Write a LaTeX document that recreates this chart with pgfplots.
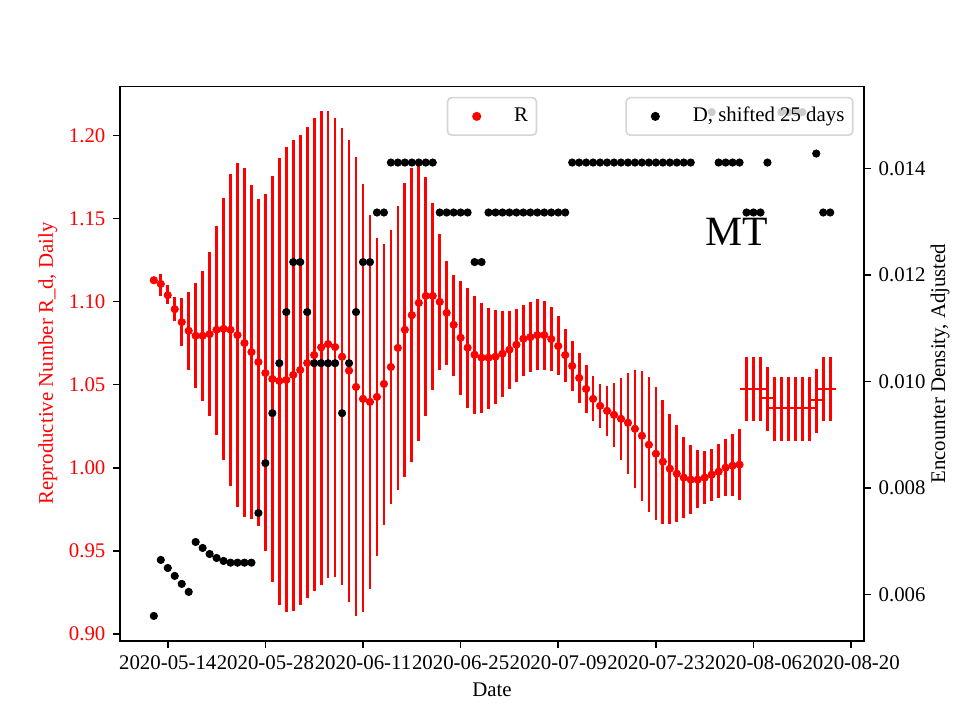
\documentclass[border=0pt]{standalone}
\usepackage{fontspec}
\setmainfont{Liberation Serif}
\usepackage{pgfplots}
\usepackage{pgfplotstable}
\pgfplotsset{compat=1.18}

% R_d daily: day (0 = 2020-05-14), centre, lower, upper
\pgfplotstableread{
d c lo hi
-2 1.1128 1.1128 1.1128
-1 1.1106 1.1036 1.1166
0 1.1038 1.0984 1.1100
1 1.0954 1.0880 1.1028
2 1.0876 1.0730 1.1024
3 1.0824 1.0586 1.1058
4 1.0794 1.0478 1.1114
5 1.0794 1.0400 1.1184
6 1.0804 1.0314 1.1298
7 1.0830 1.0194 1.1456
8 1.0836 1.0046 1.1624
9 1.0830 0.9890 1.1766
10 1.0798 0.9764 1.1832
11 1.0750 0.9704 1.1802
12 1.0696 0.9692 1.1700
13 1.0636 0.9650 1.1618
14 1.0570 0.9500 1.1646
15 1.0534 0.9310 1.1754
16 1.0522 0.9176 1.1862
17 1.0528 0.9130 1.1928
18 1.0558 0.9140 1.1970
19 1.0588 0.9176 1.2000
20 1.0630 0.9218 1.2048
21 1.0678 0.9256 1.2102
22 1.0724 0.9296 1.2144
23 1.0744 0.9334 1.2144
24 1.0726 0.9344 1.2102
25 1.0668 0.9296 1.2042
26 1.0584 0.9190 1.1970
27 1.0486 0.9106 1.1868
28 1.0414 0.9130 1.1706
29 1.0396 0.9268 1.1520
30 1.0426 0.9470 1.1382
31 1.0504 0.9656 1.1346
32 1.0606 0.9782 1.1430
33 1.0721 0.9866 1.1574
34 1.0830 0.9944 1.1712
35 1.0918 1.0034 1.1802
36 1.0992 1.0160 1.1820
37 1.1034 1.0310 1.1748
38 1.1034 1.0466 1.1592
39 1.0998 1.0586 1.1406
40 1.0932 1.0616 1.1244
41 1.0860 1.0550 1.1160
42 1.0782 1.0436 1.1124
43 1.0722 1.0358 1.1082
44 1.0680 1.0322 1.1034
45 1.0662 1.0328 1.0992
46 1.0662 1.0352 1.0962
47 1.0668 1.0382 1.0950
48 1.0686 1.0424 1.0944
49 1.0710 1.0472 1.0944
50 1.0740 1.0514 1.0956
51 1.0776 1.0550 1.0980
52 1.0786 1.0574 1.0998
53 1.0798 1.0586 1.1016
54 1.0798 1.0586 1.1004
55 1.0774 1.0580 1.0968
56 1.0732 1.0556 1.0914
57 1.0678 1.0514 1.0836
58 1.0612 1.0460 1.0764
59 1.0540 1.0388 1.0692
60 1.0474 1.0328 1.0618
61 1.0414 1.0280 1.0552
62 1.0372 1.0238 1.0504
63 1.0342 1.0190 1.0494
64 1.0318 1.0124 1.0512
65 1.0294 1.0046 1.0542
66 1.0270 0.9962 1.0572
67 1.0234 0.9878 1.0590
68 1.0192 0.9800 1.0584
69 1.0138 0.9734 1.0548
70 1.0084 0.9686 1.0488
71 1.0036 0.9662 1.0410
72 0.9994 0.9662 1.0326
73 0.9964 0.9674 1.0254
74 0.9940 0.9698 1.0182
75 0.9928 0.9722 1.0134
76 0.9928 0.9758 1.0104
77 0.9940 0.9782 1.0098
78 0.9958 0.9800 1.0110
79 0.9976 0.9818 1.0140
80 1.0000 0.9830 1.0170
81 1.0012 0.9830 1.0200
82 1.0018 0.9806 1.0230
}\rdata

\pgfplotstableread{
d c lo hi
83 1.0476 1.0280 1.0668
84 1.0476 1.0280 1.0668
85 1.0476 1.0280 1.0668
86 1.0418 1.0220 1.0608
87 1.0358 1.0160 1.0548
88 1.0358 1.0160 1.0548
89 1.0358 1.0160 1.0548
90 1.0358 1.0160 1.0548
91 1.0358 1.0160 1.0548
92 1.0358 1.0160 1.0548
93 1.0406 1.0208 1.0596
94 1.0476 1.0280 1.0668
95 1.0476 1.0280 1.0668
}\rtail

% encounter density, shifted 25 days
\pgfplotstableread{
d v
-2 0.005600
-1 0.006651
0 0.006500
1 0.006351
2 0.006201
3 0.006051
4 0.006988
5 0.006876
6 0.006763
7 0.006688
8 0.006632
9 0.006600
10 0.006600
11 0.006600
12 0.006600
13 0.007532
14 0.008469
15 0.009407
16 0.010345
17 0.011306
18 0.012244
19 0.012244
20 0.011306
21 0.010345
22 0.010345
23 0.010345
24 0.010345
25 0.009407
26 0.010345
27 0.011306
28 0.012244
29 0.012244
30 0.013175
31 0.013175
32 0.014113
33 0.014113
34 0.014113
35 0.014113
36 0.014113
37 0.014113
38 0.014113
39 0.013175
40 0.013175
41 0.013175
42 0.013175
43 0.013175
44 0.012244
45 0.012244
46 0.013175
47 0.013175
48 0.013175
49 0.013175
50 0.013175
51 0.013175
52 0.013175
53 0.013175
54 0.013175
55 0.013175
56 0.013175
57 0.013175
58 0.014113
59 0.014113
60 0.014113
61 0.014113
62 0.014113
63 0.014113
64 0.014113
65 0.014113
66 0.014113
67 0.014113
68 0.014113
69 0.014113
70 0.014113
71 0.014113
72 0.014113
73 0.014113
74 0.014113
75 0.014113
78 0.015060
79 0.014113
80 0.014113
81 0.014113
82 0.014113
83 0.013175
84 0.013175
85 0.013175
86 0.014113
88 0.015060
89 0.015060
90 0.015060
91 0.015060
93 0.014282
94 0.013175
95 0.013175
}\ddata

\pgfplotsset{
  twin/.style={
    at={(57.6pt,38.02pt)}, anchor=south west,
    width=357.12pt, height=266.11pt, scale only axis,
    xmin=-6.85, xmax=99.85,
    tick align=outside, major tick length=3.5pt,
    tick style={black, line width=0.8pt},
    axis line style={line width=0.8pt},
    /pgf/number format/assume math mode=true,
    legend cell align=left,
    legend image code/.code={
      \path[draw=none] (0pt,0pt) -- (20pt,0pt);
      \draw[only marks, fill opacity=1, draw opacity=1] plot coordinates {(10pt,0pt)};
    },
    legend style={draw=black!20, line width=0.8pt, fill=white, fill opacity=0.8,
      text opacity=1, draw opacity=0.8, rounded corners=2pt,
      inner xsep=4pt, inner ysep=4.4pt, column sep=8pt,
      nodes={inner sep=0pt, text height=7pt, text depth=2.2pt}},
  },
}

\begin{document}
\begin{tikzpicture}
\path[use as bounding box] (0,0) rectangle (460.8pt,345.6pt);

\begin{axis}[
  twin,
  ymin=0.8958, ymax=1.2295,
  xtick pos=bottom, ytick pos=left,
  xtick={0,14,28,42,56,70,84,98},
  xticklabels={2020-05-14,2020-05-28,2020-06-11,2020-06-25,2020-07-09,2020-07-23,2020-08-06,2020-08-20},
  ytick={0.90,0.95,1.00,1.05,1.10,1.15,1.20},
  yticklabel style={red, /pgf/number format/.cd, fixed, fixed zerofill, precision=2},
  xlabel={Date},
  xlabel style={at={(axis description cs:0.5,-0.0887)}, anchor=center},
  ylabel={Reproductive Number R\_d, Daily},
  ylabel style={red, at={(axis description cs:-0.0968,0.5)}, anchor=center},
  legend style={at={(0.5,0.9812)}, anchor=north},
]
\addplot[forget plot, draw=none, mark=none,
  error bars/.cd, y dir=both, y explicit, error mark=none,
  error bar style={draw=red, line width=1.3pt}]
  table[x=d, y=c, y error plus expr=\thisrow{hi}-\thisrow{c}, y error minus expr=\thisrow{c}-\thisrow{lo}] {\rdata};
\addplot[forget plot, draw=none, mark=none,
  error bars/.cd, y dir=both, y explicit, error mark=none,
  error bar style={draw=red, line width=1.3pt}]
  table[x=d, y=c, y error plus expr=\thisrow{hi}-\thisrow{c}, y error minus expr=\thisrow{c}-\thisrow{lo}] {\rtail};
\addplot[red, only marks, mark=*, mark size=1.75pt] table[x=d, y=c] {\rdata};
\addlegendentry{R}
\addplot[forget plot, red, only marks, mark=-, mark size=3pt, mark options={line width=1pt}] table[x=d, y=c] {\rtail};
\end{axis}

\begin{axis}[
  twin,
  axis x line=none, axis y line*=right,
  ymin=0.005133, ymax=0.015543,
  ytick={0.006,0.008,0.010,0.012,0.014},
  scaled y ticks=false,
  yticklabel style={/pgf/number format/.cd, fixed, fixed zerofill, precision=3},
  ylabel={Encounter Density, Adjusted},
  ylabel style={at={(axis description cs:1.1022,0.5)}, anchor=center},
  legend style={at={(0.986,0.9812)}, anchor=north east},
]
\addplot[black, only marks, mark=*, mark size=1.75pt] table[x=d, y=v] {\ddata};
\addlegendentry{D, shifted 25 days}
\node[anchor=base west, inner sep=0pt, font=\fontsize{20}{24}\selectfont] at (axis description cs:0.786,0.7127) {MT};
\end{axis}
\end{tikzpicture}
\end{document}
